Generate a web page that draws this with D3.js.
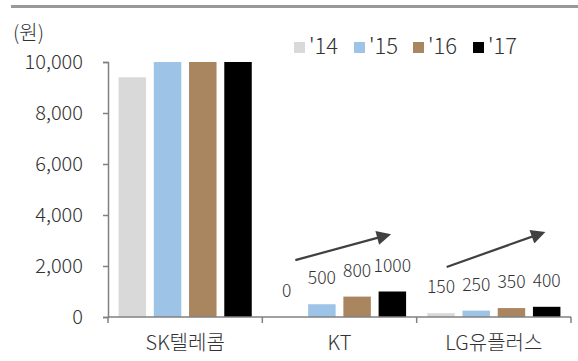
<!DOCTYPE html>
<html>
<head>
<meta charset="utf-8">
<script src="https://cdn.jsdelivr.net/npm/d3@7"></script>
<style>
body { margin: 0; background: #fff; }
svg text { font-family: "Noto Sans CJK KR", "Noto Sans", sans-serif; font-weight: 300; fill: #333; }
</style>
</head>
<body>
<svg width="578" height="361"></svg>
<script>
var categories = ["SK텔레콤", "KT", "LG유플러스"];
var years = ["'14", "'15", "'16", "'17"];
var colors = ["#d9d9d9", "#9dc3e6", "#a9865f", "#000000"];
var v14 = [9400, 0, 150];
var v15 = [10000, 500, 250];
var v16 = [10000, 800, 350];
var v17 = [10000, 1000, 400];
var yTicks = [0, 2000, 4000, 6000, 8000, 10000];
// which groups get value labels
var labelled = [false, true, true];
// trend arrows: group, start/end offset inside group (px), start/end value (won)
var arrows = [
	{cat: "KT", dx0: 33, dx1: 126, v0: 2230, v1: 3220},
	{cat: "LG유플러스", dx0: 30, dx1: 126, v0: 1960, v1: 3300}
];

var series = [v14, v15, v16, v17];
var svg = d3.select("svg");

var margins = {left: 108, right: 7, top: 62, bottom: 44};
var w = 578, h = 361;

var x0 = d3.scaleBand().domain(categories).range([margins.left, w - margins.right]);
var x1 = d3.scaleBand().domain(years).range([0, x0.bandwidth()]).paddingInner(0.22).paddingOuter(0.3);
var y = d3.scaleLinear().domain([0, 10000]).range([h - margins.bottom, margins.top]);

// top rule
svg.append("line").attr("x1", 11).attr("x2", 578).attr("y1", 6.5).attr("y2", 6.5)
	.attr("stroke", "#999").attr("stroke-width", 3);

svg.append("text").text("(원)").attr("x", 13).attr("y", 40).attr("font-size", 20);

// bars
var groups = svg.selectAll(".grp").data(categories).enter().append("g")
	.attr("class", "grp")
	.attr("transform", function(d){ return "translate(" + x0(d) + ",0)"; });

groups.each(function(c, ci){
	var g = d3.select(this);
	years.forEach(function(yr, si){
		var v = series[si][ci];
		g.append("rect")
			.attr("x", x1(yr))
			.attr("width", x1.bandwidth())
			.attr("y", y(v))
			.attr("height", y(0) - y(v))
			.attr("fill", colors[si]);
		if (labelled[ci]){
			g.append("text")
				.attr("x", x1(yr) + x1.bandwidth()/2)
				.attr("y", y(v) - 20)
				.attr("text-anchor", "middle")
				.attr("font-size", 17.5)
				.text(v);
		}
	});
});

// y axis
var yAxis = svg.append("g").attr("transform", "translate(" + margins.left + ",0)")
	.call(d3.axisLeft(y).tickValues(yTicks).tickSize(5).tickPadding(20).tickFormat(d3.format(",")));
yAxis.select(".domain").attr("stroke", "#808080").attr("stroke-width", 1.5);
yAxis.selectAll(".tick line").attr("stroke", "#808080").attr("stroke-width", 1.5);
yAxis.selectAll(".tick text").attr("font-size", 20).attr("fill", "#333")
	.attr("font-family", "Noto Sans CJK KR").attr("font-weight", 300);

// x axis
var xAxis = svg.append("g").attr("transform", "translate(0," + y(0) + ")");
xAxis.append("line").attr("x1", margins.left).attr("x2", w - margins.right)
	.attr("stroke", "#808080").attr("stroke-width", 1.5);
var edges = categories.map(function(c){ return x0(c); }).concat([x0(categories[2]) + x0.bandwidth()]);
xAxis.selectAll(".xt").data(edges).enter().append("line")
	.attr("x1", function(d){ return d; }).attr("x2", function(d){ return d; })
	.attr("y1", 0).attr("y2", 6).attr("stroke", "#808080").attr("stroke-width", 1.5);
xAxis.selectAll(".xl").data(categories).enter().append("text")
	.attr("x", function(d){ return x0(d) + x0.bandwidth()/2; })
	.attr("y", 33)
	.attr("text-anchor", "middle")
	.attr("font-size", 20)
	.text(function(d){ return d; });

// arrows
svg.append("defs").append("marker")
	.attr("id", "ah").attr("viewBox", "0 0 10 10").attr("refX", 8).attr("refY", 5)
	.attr("markerWidth", 7.5).attr("markerHeight", 6.5).attr("orient", "auto")
	.append("path").attr("d", "M0,0 L10,5 L0,10 z").attr("fill", "#404040");

svg.selectAll(".arr").data(arrows).enter().append("line")
	.attr("class", "arr")
	.attr("x1", function(d){ return x0(d.cat) + d.dx0; })
	.attr("x2", function(d){ return x0(d.cat) + d.dx1; })
	.attr("y1", function(d){ return y(d.v0); })
	.attr("y2", function(d){ return y(d.v1); })
	.attr("stroke", "#404040").attr("stroke-width", 2.2)
	.attr("marker-end", "url(#ah)");

// legend
var leg = svg.append("g").attr("transform", "translate(294,42)");
var lx = [0, 60, 119, 179];
years.forEach(function(yr, i){
	leg.append("rect").attr("x", lx[i]).attr("y", 0).attr("width", 11).attr("height", 11).attr("fill", colors[i]);
	leg.append("text").attr("x", lx[i] + 15).attr("y", 12).attr("font-size", 22).text(yr);
});
</script>
</body>
</html>
